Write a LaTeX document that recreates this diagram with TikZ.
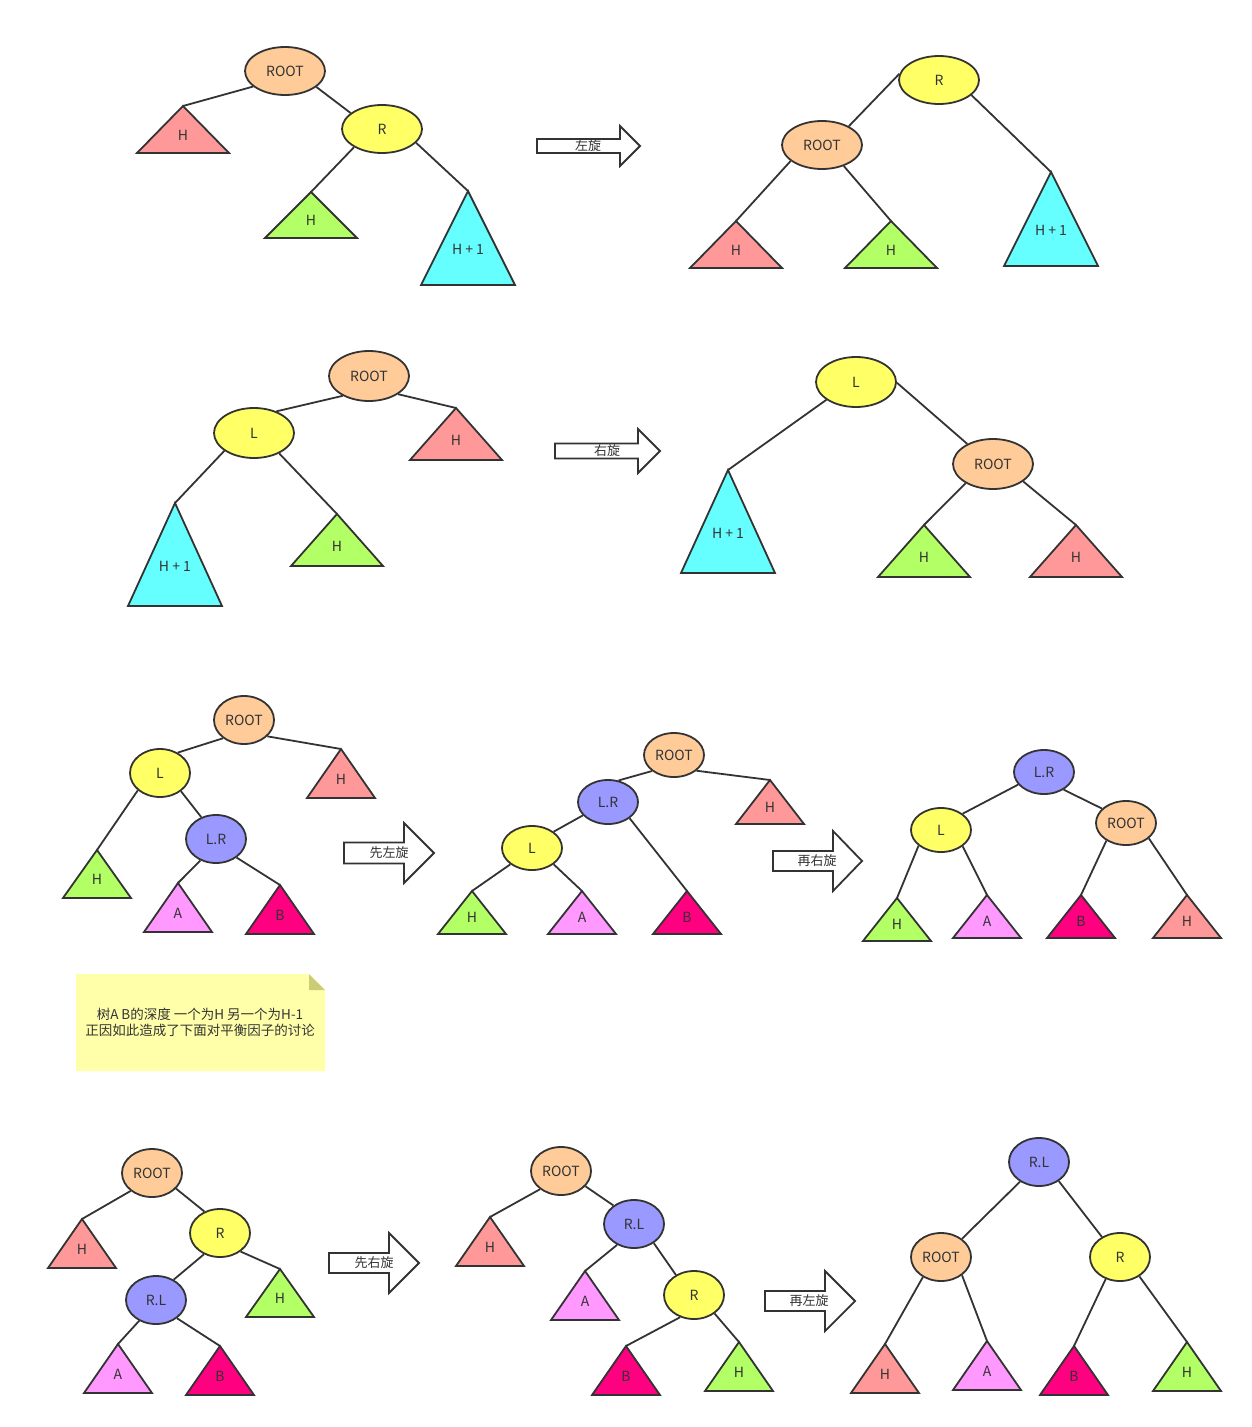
\documentclass[tikz,border=0pt]{standalone}
\usepackage{fontspec}
\setmainfont{Noto Sans CJK SC}
\usetikzlibrary{shapes.geometric}
\definecolor{cLine}{HTML}{333333}
\definecolor{cText}{HTML}{333333}
\definecolor{cRoot}{HTML}{FFCC99}
\definecolor{cYel}{HTML}{FFFF66}
\definecolor{cPink}{HTML}{FF9999}
\definecolor{cGreen}{HTML}{B3FF66}
\definecolor{cCyan}{HTML}{66FFFF}
\definecolor{cBlue}{HTML}{9999FF}
\definecolor{cA}{HTML}{FF99FF}
\definecolor{cB}{HTML}{FF0080}
\definecolor{cNote}{HTML}{FFFFAA}
\definecolor{cFold}{HTML}{CCCC77}
\tikzset{
  ell/.style={ellipse, draw=cLine, line width=1.8pt, inner sep=0pt, text=cText, font=\fontsize{14}{16}\selectfont},
  tri/.style={draw=cLine, line width=1.8pt, line join=miter},
  lbl/.style={text=cText, inner sep=0pt, font=\fontsize{14}{16}\selectfont},
  alabel/.style={text=cText, inner sep=0pt, font=\fontsize{13}{15}\selectfont},
  edge/.style={draw=cLine, line width=1.8pt},
  arr/.style={draw=cLine, fill=white, line width=1.8pt, line join=miter},
}
\newcommand\ellnode[7]{\node[ell, fill=#6, minimum width=#4pt, minimum height=#5pt] (#1) at (#2,#3) {#7};}
\newcommand\mytri[7]{%
  \coordinate (#1) at (#2,#3);
  \draw[tri, fill=#6] (#1) -- ({#2-#4},{#3+#5}) -- ({#2+#4},{#3+#5}) -- cycle;
  \node[lbl] (#1l) at (#2,{#3+0.62*#5}) {#7};}
\newcommand\myarrow[9]{%
  \draw[arr] (#2,{#3-#5}) -- ({#2+#4},{#3-#5}) -- ({#2+#4},{#3-#6}) -- ({#2+#4+#7},#3)
     -- ({#2+#4},{#3+#6}) -- ({#2+#4},{#3+#5}) -- (#2,{#3+#5}) -- cycle;
  \node[alabel] (#1) at (#8,#3) {#9};}
\begin{document}
\begin{tikzpicture}[x=1pt,y=-1pt]
\useasboundingbox (0,0) rectangle (1252,1427);
% ---------- Row 1 left
\ellnode{aroot}{285}{71}{80}{48}{cRoot}{ROOT}
\ellnode{ar}{382}{129}{80}{48}{cYel}{R}
\mytri{ah1}{183}{106}{46}{47}{cPink}{H}
\mytri{ah2}{311}{192}{46}{46}{cGreen}{H}
\mytri{ah3}{468}{191}{47}{94}{cCyan}{H + 1}
\draw[edge] (aroot.206) -- (ah1);
\draw[edge] (aroot.333) -- (ar.153);
\draw[edge] (ar.213) -- (ah2);
\draw[edge] (ar.338) -- (ah3);
\myarrow{arr1}{537}{146}{83}{7}{20}{20}{588}{左旋}
% ---------- Row 1 right
\ellnode{br}{939}{80}{80}{48}{cYel}{R}
\ellnode{broot}{822}{145}{80}{48}{cRoot}{ROOT}
\mytri{bh3}{1051}{172}{47}{94}{cCyan}{H + 1}
\mytri{bh1}{736}{221}{46}{47}{cPink}{H}
\mytri{bh2}{891}{221}{46}{47}{cGreen}{H}
\draw[edge] (br.171) -- (broot.35);
\draw[edge] (br.335) -- (bh3);
\draw[edge] (broot.207) -- (bh1);
\draw[edge] (broot.316) -- (bh2);
% ---------- Row 2 left
\ellnode{croot}{369}{376}{80}{50}{cRoot}{ROOT}
\ellnode{cl}{254}{433}{80}{50}{cYel}{L}
\mytri{ch1}{456}{408}{46}{52}{cPink}{H}
\mytri{ch3}{175}{503}{47}{103}{cCyan}{H + 1}
\mytri{ch2}{337}{514}{46}{52}{cGreen}{H}
\draw[edge] (croot.328) -- (ch1);
\draw[edge] (croot.217) -- (cl.44);
\draw[edge] (cl.211) -- (ch3);
\draw[edge] (cl.321) -- (ch2);
\myarrow{arr2}{555}{451}{83}{7.5}{22}{22}{607}{右旋}
% ---------- Row 2 right
\ellnode{dl}{856}{382}{80}{50}{cYel}{L}
\ellnode{droot}{993}{464}{80}{50}{cRoot}{ROOT}
\mytri{dh3}{728}{470}{47}{103}{cCyan}{H + 1}
\mytri{dh2}{924}{525}{46}{52}{cGreen}{H}
\mytri{dh1}{1076}{525}{46}{52}{cPink}{H}
\draw[edge] (dl.211) -- (dh3);
\draw[edge] (dl.359) -- (droot.142);
\draw[edge] (droot.215) -- (dh2);
\draw[edge] (droot.330) -- (dh1);
% ---------- Row 3 left
\ellnode{eroot}{244}{720}{60}{48}{cRoot}{ROOT}
\ellnode{el}{160}{773}{60}{48}{cYel}{L}
\ellnode{elr}{216}{839}{60}{48}{cBlue}{L.R}
\mytri{eh1}{341}{749}{34}{49}{cPink}{H}
\mytri{eh2}{97}{850}{34}{48}{cGreen}{H}
\mytri{ea}{178}{883}{34}{49}{cA}{A}
\mytri{eb}{280}{885}{34}{49}{cB}{B}
\draw[edge] (eroot.221) -- (el.49);
\draw[edge] (eroot.325) -- (eh1);
\draw[edge] (el.218) -- (eh2);
\draw[edge] (el.319) -- (elr.124);
\draw[edge] (elr.234) -- (ea);
\draw[edge] (elr.318) -- (eb);
\myarrow{arr3}{344}{853}{60}{10.5}{30}{30}{389}{先左旋}
% ---------- Row 3 middle
\ellnode{froot}{674}{755}{60}{44}{cRoot}{ROOT}
\ellnode{flr}{608}{802}{60}{44}{cBlue}{L.R}
\ellnode{fl}{532}{848}{60}{44}{cYel}{L}
\mytri{fh1}{770}{780}{34}{44}{cPink}{H}
\mytri{fh2}{472}{891}{34}{43}{cGreen}{H}
\mytri{fa}{582}{891}{34}{43}{cA}{A}
\mytri{fb}{687}{891}{34}{43}{cB}{B}
\draw[edge] (froot.216) -- (flr.64);
\draw[edge] (froot.325) -- (fh1);
\draw[edge] (flr.208) -- (fl.37);
\draw[edge] (flr.323) -- (fb);
\draw[edge] (fl.217) -- (fh2);
\draw[edge] (fl.323) -- (fa);
\myarrow{arr4}{773}{861}{60}{10}{30}{29}{817}{再右旋}
% ---------- Row 3 right
\ellnode{glr}{1044}{772}{60}{44}{cBlue}{L.R}
\ellnode{gl}{941}{830}{60}{44}{cYel}{L}
\ellnode{groot}{1126}{823}{60}{44}{cRoot}{ROOT}
\mytri{gh2}{897}{898}{34}{43}{cGreen}{H}
\mytri{ga}{987}{895}{34}{43}{cA}{A}
\mytri{gb}{1081}{895}{34}{43}{cB}{B}
\mytri{gh1}{1187}{895}{34}{43}{cPink}{H}
\draw[edge] (glr.206) -- (gl.37);
\draw[edge] (glr.318) -- (groot.149);
\draw[edge] (gl.215) -- (gh2);
\draw[edge] (gl.323) -- (ga);
\draw[edge] (groot.222) -- (gb);
\draw[edge] (groot.326) -- (gh1);
% ---------- Note
\fill[cNote] (76,974) -- (309,974) -- (325,990) -- (325,1071) -- (76,1071) -- cycle;
\fill[cFold] (309,974) -- (325,990) -- (309,990) -- cycle;
\node[align=center, text=cText, inner sep=0pt, font=\fontsize{13.5}{16}\selectfont] (note) at (200,1022) {树A B的深度 一个为H 另一个为H-1\\正因如此造成了下面对平衡因子的讨论};
% ---------- Row 4 left
\ellnode{hroot}{152}{1173}{60}{48}{cRoot}{ROOT}
\ellnode{hr}{220}{1233}{60}{48}{cYel}{R}
\ellnode{hrl}{156}{1300}{60}{48}{cBlue}{R.L}
\mytri{hh1}{82}{1219}{34}{49}{cPink}{H}
\mytri{hh2}{280}{1269}{34}{48}{cGreen}{H}
\mytri{ha}{118}{1344}{34}{49}{cA}{A}
\mytri{hb}{220}{1346}{34}{49}{cB}{B}
\draw[edge] (hroot.220) -- (hh1);
\draw[edge] (hroot.327) -- (hr.126);
\draw[edge] (hr.233) -- (hrl.49);
\draw[edge] (hr.318) -- (hh2);
\draw[edge] (hrl.231) -- (ha);
\draw[edge] (hrl.319) -- (hb);
\myarrow{arr5}{329}{1263}{60}{10}{30}{30}{374}{先右旋}
% ---------- Row 4 middle
\ellnode{iroot}{561}{1171}{60}{48}{cRoot}{ROOT}
\ellnode{irl}{634}{1224}{60}{48}{cBlue}{R.L}
\ellnode{ir}{694}{1295}{60}{48}{cYel}{R}
\mytri{ih1}{490}{1217}{34}{49}{cPink}{H}
\mytri{ia}{585}{1271}{34}{49}{cA}{A}
\mytri{ib}{626}{1346}{34}{49}{cB}{B}
\mytri{ih2}{739}{1342}{34}{49}{cGreen}{H}
\draw[edge] (iroot.221) -- (ih1);
\draw[edge] (iroot.328) -- (irl.138);
\draw[edge] (irl.231) -- (ia);
\draw[edge] (irl.316) -- (ir.132);
\draw[edge] (ir.238) -- (ib);
\draw[edge] (ir.318) -- (ih2);
\myarrow{arr6}{765}{1301}{60}{10}{30}{30}{809}{再左旋}
% ---------- Row 4 right
\ellnode{jrl}{1039}{1162}{60}{48}{cBlue}{R.L}
\ellnode{jroot}{941}{1257}{60}{48}{cRoot}{ROOT}
\ellnode{jr}{1120}{1257}{60}{48}{cYel}{R}
\mytri{jh1}{885}{1344}{34}{49}{cPink}{H}
\mytri{ja}{987}{1341}{34}{49}{cA}{A}
\mytri{jb}{1074}{1346}{34}{49}{cB}{B}
\mytri{jh2}{1187}{1342}{34}{49}{cGreen}{H}
\draw[edge] (jrl.226) -- (jroot.41);
\draw[edge] (jrl.316) -- (jr.132);
\draw[edge] (jroot.228) -- (jh1);
\draw[edge] (jroot.319) -- (ja);
\draw[edge] (jr.237) -- (jb);
\draw[edge] (jr.315) -- (jh2);
\end{tikzpicture}
\end{document}
